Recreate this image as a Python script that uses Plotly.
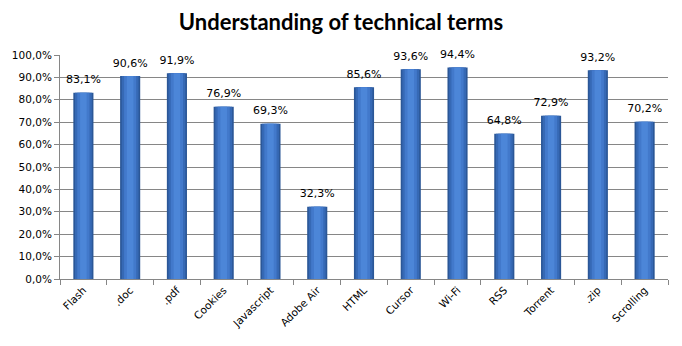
import plotly.graph_objects as go

categories = ["Flash", ".doc", ".pdf", "Cookies", "Javascript", "Adobe Air", "HTML",
              "Cursor", "Wi-Fi", "RSS", "Torrent", ".zip", "Scrolling"]
values = [83.1, 90.6, 91.9, 76.9, 69.3, 32.3, 85.6, 93.6, 94.4, 64.8, 72.9, 93.2, 70.2]
y_ticks = [0, 10, 20, 30, 40, 50, 60, 70, 80, 90, 100]

def pct(v, d=1):
    return f"{v:.{d}f}%".replace(".", ",")

labels = [pct(v) for v in values]
y_tick_text = [pct(v) for v in y_ticks]

fig = go.Figure()

# Cylinder-like shading: a dark outer bar with lighter, narrower bars stacked on top
shades = [(0.43, "#2b5797"), (0.36, "#3669b5"), (0.26, "#4279cb"), (0.14, "#4c86d8")]
for w, c in shades:
    fig.add_trace(go.Bar(
        x=categories, y=values, width=w,
        marker=dict(color=c, line=dict(width=0)),
        hoverinfo="skip", showlegend=False,
    ))

# Value labels above bars (invisible marker adds a small gap)
fig.add_trace(go.Scatter(
    x=categories, y=values, mode="markers+text",
    marker=dict(size=9, opacity=0),
    text=labels, textposition="top center", cliponaxis=False,
    textfont=dict(family="DejaVu Sans", size=11, color="#000000"),
    showlegend=False, hoverinfo="skip",
))

fig.update_layout(
    width=682, height=346,
    margin=dict(l=57, r=14, t=55, b=67),
    barmode="overlay",
    paper_bgcolor="white", plot_bgcolor="white",
    title=dict(text="<b>Understanding of technical terms</b>",
               x=0.5, xanchor="center", y=0.935, yanchor="middle",
               font=dict(family="Lato", size=22, color="#000000")),
    xaxis=dict(
        range=[-0.5, len(categories) - 0.5],
        tickangle=-45, tickson="boundaries", ticks="outside", ticklen=5,
        tickcolor="#868686", showline=True, linecolor="#868686", linewidth=1,
        tickfont=dict(family="DejaVu Sans", size=10.5, color="#000000"),
        showgrid=False,
    ),
    yaxis=dict(
        range=[0, 100], tickvals=y_ticks, ticktext=y_tick_text,
        ticks="outside", ticklen=5, tickcolor="#868686",
        showline=True, linecolor="#868686", linewidth=1,
        showgrid=True, gridcolor="#868686", gridwidth=1,
        tickfont=dict(family="DejaVu Sans", size=10.5, color="#000000"),
        zeroline=False,
    ),
)

fig.write_html("out.html")
